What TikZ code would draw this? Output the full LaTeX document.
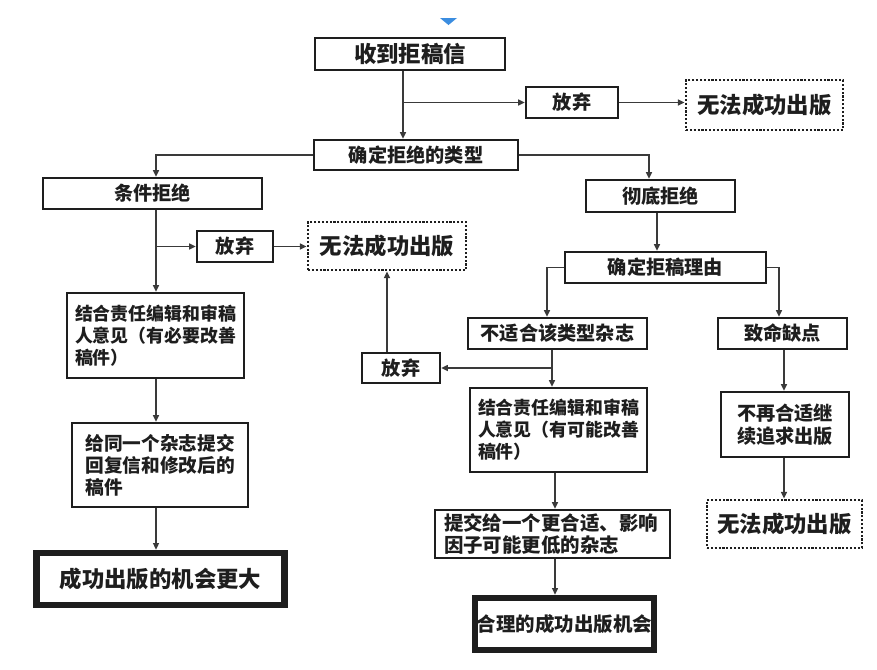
\documentclass[tikz,border=0pt]{standalone}
\usepackage{fontspec}
\setmainfont{Noto Sans CJK SC}
\usetikzlibrary{arrows.meta,calc}
\definecolor{ink}{HTML}{1E1E1E}
\definecolor{wire}{HTML}{3A3A3A}
\definecolor{tri}{HTML}{3B8DE0}
\begin{document}
\begin{tikzpicture}[x=0.75pt,y=-0.75pt,
  sz/.style 2 args={minimum width=#1*0.75pt, minimum height=#2*0.75pt},
  box/.style={draw=ink, line width=1.9pt, fill=white, text=ink, inner sep=0pt},
  thickbox/.style={box, line width=5pt},
  dotbox/.style={box, line width=2.2pt, dash pattern=on 1.6pt off 1.3pt},
  fbig/.style={font=\fontsize{16.8pt}{19pt}\selectfont\bfseries},
  fmid/.style={font=\fontsize{14.4pt}{17pt}\selectfont\bfseries},
  fsub/.style={font=\fontsize{14.6pt}{17.2pt}\selectfont\bfseries},
  fres/.style={font=\fontsize{14pt}{16.5pt}\selectfont\bfseries},
  fsmall/.style={font=\fontsize{13.4pt}{16.5pt}\selectfont\bfseries},
  arr/.style={draw=wire, line width=1.1pt, -{Triangle[length=5pt,width=4.5pt]}},
]
\fill[white] (0,0) rectangle (877,669);
\useasboundingbox (0,0) rectangle (877,669);
\fill[tri] (440,18) -- (457,18) -- (448.5,25) -- cycle;

% column coordinates
\coordinate (colA) at (156,0);
\coordinate (colT) at (403,0);
\coordinate (colB) at (649,0);
\coordinate (colR) at (657,0);
\coordinate (colU) at (547,0);
\coordinate (colF) at (779,0);
\coordinate (colV) at (552,0);
\coordinate (colW) at (555,0);
\coordinate (colX) at (784,0);

% nodes
\node[box,fbig,sz={190}{32}] (recv) at (410,54) {收到拒稿信};
\node[box,fmid,sz={204}{30}] (type) at (416,155) {确定拒绝的类型};
\node[box,fmid,sz={92}{31}] (quitA) at (572,102.5) {放弃};
\node[dotbox,fbig,sz={157}{50}] (failA) at (764.5,105) {无法成功出版};
\node[box,fmid,sz={219}{31}] (cond) at (152.5,193.5) {条件拒绝};
\node[box,fmid,sz={149}{32}] (total) at (660.5,196) {彻底拒绝};
\node[box,fmid,sz={76}{31}] (quitB) at (235,246.5) {放弃};
\node[dotbox,fbig,sz={158}{48}] (failB) at (387,246) {无法成功出版};
\node[box,fsmall,sz={177}{85},align=left] (advA) at (155.5,335.5) {结合责任编辑和审稿\\人意见（有必要改善\\稿件）};
\node[box,fres,sz={176}{84},align=left] (resub) at (160,465) {给同一个杂志提交\\回复信和修改后的\\稿件};
\node[thickbox,fbig,sz={248}{52}] (bigA) at (160.5,579) {成功出版的机会更大};
\node[box,fmid,sz={201}{31}] (reason) at (665.5,267.5) {确定拒稿理由};
\node[box,fmid,sz={179}{31}] (unfit) at (557.5,333.5) {不适合该类型杂志};
\node[box,fmid,sz={129}{31}] (fatal) at (782.5,333.5) {致命缺点};
\node[box,fmid,sz={78}{30}] (quitC) at (401,368) {放弃};
\node[box,fsmall,sz={177}{84},align=left] (advB) at (558.5,430) {结合责任编辑和审稿\\人意见（有可能改善\\稿件）};
\node[box,fsub,sz={235}{48},align=left,text width=217*0.75pt] (sub) at (552.5,534) {提交给一个更合适、影响\\因子可能更低的杂志};
\node[thickbox,fsub,sz={179}{52}] (bigB) at (564.5,624) {合理的成功出版机会};
\node[box,fmid,sz={128}{65},align=left] (nolong) at (785,424.5) {不再合适继\\续追求出版};
\node[dotbox,fbig,sz={155}{48}] (failC) at (784.5,524) {无法成功出版};

% connectors
\draw[arr] (recv.south -| colT) -- (type.north -| colT);
\draw[arr] (colT |- quitA.west) -- (quitA.west);
\draw[arr] (quitA.east) -- (quitA.east -| failA.west);
\draw[arr] (type.west) -| (cond.north -| colA);
\draw[arr] (type.east) -| (total.north -| colB);
\draw[arr] (cond.south -| colA) -- (advA.north -| colA);
\draw[arr] (colA |- quitB.west) -- (quitB.west);
\draw[arr] (quitB.east) -- (quitB.east -| failB.west);
\draw[arr] (advA.south -| colA) -- (resub.north -| colA);
\draw[arr] (resub.south -| colA) -- (bigA.north -| colA);
\draw[arr] (total.south -| colR) -- (reason.north -| colR);
\draw[arr] (reason.west) -| (unfit.north -| colU);
\draw[arr] (reason.east) -| (fatal.north -| colF);
\draw[arr] (unfit.south -| colV) -- (advB.north -| colV);
\draw[arr] (colV |- quitC.east) -- (quitC.east);
\draw[arr] (quitC.north -| failB.south) -- (failB.south);
\draw[arr] (advB.south -| colW) -- (sub.north -| colW);
\draw[arr] (sub.south -| colW) -- (bigB.north -| colW);
\draw[arr] (fatal.south -| colX) -- (nolong.north -| colX);
\draw[arr] (nolong.south -| colX) -- (failC.north -| colX);
\end{tikzpicture}
\end{document}
